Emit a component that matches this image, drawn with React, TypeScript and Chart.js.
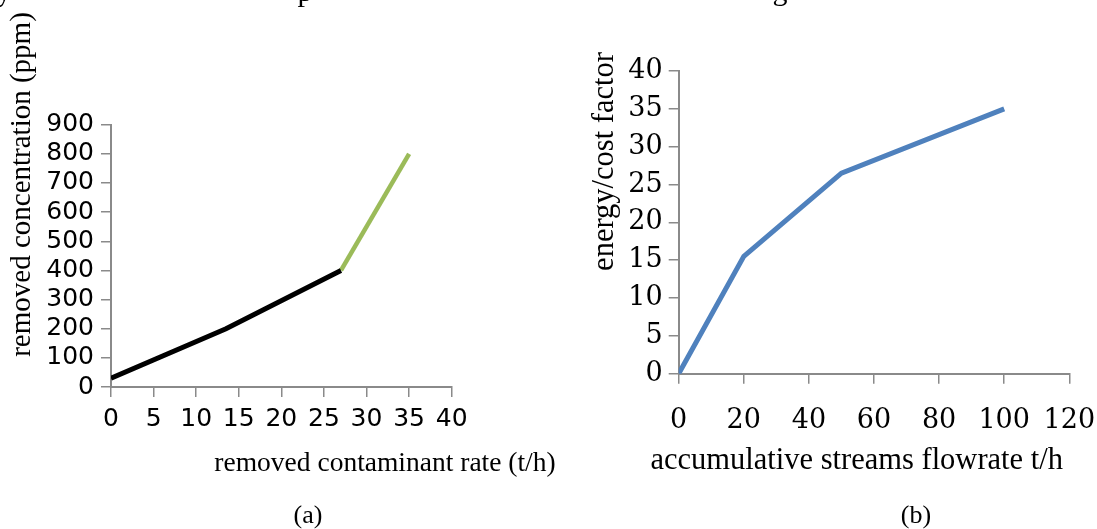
import React, { useEffect, useRef } from "react";
import { Chart, registerables } from "chart.js";

Chart.register(...registerables);

// ---------- data ----------
// (a) removed concentration vs removed contaminant rate
const rateBlack = [0, 13.5, 27];
const concBlack = [30, 200, 400];
const rateGreen = [27, 35];
const concGreen = [400, 800];
const aXTicks = [0, 5, 10, 15, 20, 25, 30, 35, 40];
const aYTicks = [0, 100, 200, 300, 400, 500, 600, 700, 800, 900];

// (b) energy/cost factor vs accumulative streams flowrate
const flowB = [0, 20, 50, 100];
const factorB = [0, 15.5, 26.5, 35];
const bXTicks = [0, 20, 40, 60, 80, 100, 120];
const bYTicks = [0, 5, 10, 15, 20, 25, 30, 35, 40];

const aXTitle = "removed contaminant rate (t/h)";
const aYTitle = "removed concentration (ppm)";
const bXTitle = "accumulative streams flowrate t/h";
const bYTitle = "energy/cost factor";
const aCaption = "(a)";
const bCaption = "(b)";

// ---------- styles ----------
const AXIS = "#8a8a8a";
const SERIF = "'Liberation Serif', serif";

const freeText = {
  id: "freeText",
  afterDraw(chart: any, _args: any, opts: any) {
    const ctx = chart.ctx;
    for (const t of opts.items || []) {
      ctx.save();
      ctx.translate(t.x, t.y);
      ctx.rotate(t.rot || 0);
      ctx.font = t.font;
      ctx.fillStyle = "#000";
      ctx.textAlign = "center";
      ctx.textBaseline = "alphabetic";
      ctx.fillText(t.text, 0, 0);
      ctx.restore();
    }
  },
};

function axisCommon(ticks: number[], font: any, pad: number, fitKey: "width" | "height", fitVal: number) {
  return {
    type: "linear",
    min: ticks[0],
    max: ticks[ticks.length - 1],
    afterBuildTicks: (s: any) => {
      s.ticks = ticks.map((v) => ({ value: v }));
    },
    afterFit: (s: any) => {
      s[fitKey] = fitVal;
      s.paddingLeft = 0;
      s.paddingRight = 0;
      s.paddingTop = 0;
      s.paddingBottom = 0;
    },
    grid: {
      display: true,
      drawOnChartArea: false,
      drawTicks: true,
      tickLength: 10,
      color: AXIS,
      lineWidth: 1.5,
    },
    border: { display: true, color: AXIS, width: 2 },
    ticks: {
      color: "#000",
      font,
      padding: pad,
      maxRotation: 0,
      autoSkip: false,
      callback: (v: any) => String(v),
    },
  };
}

function pts(xs: number[], ys: number[]) {
  return xs.map((x, i) => ({ x, y: ys[i] }));
}

export default function App() {
  const refA = useRef<HTMLCanvasElement>(null);
  const refB = useRef<HTMLCanvasElement>(null);

  useEffect(() => {
    const sansTick = { family: "'DejaVu Sans', sans-serif", size: 25 };
    const serifTick = { family: "'DejaVu Serif', serif", size: 27 };

    const chartA = new Chart(refA.current as HTMLCanvasElement, {
      type: "line",
      data: {
        datasets: [
          {
            data: pts(rateBlack, concBlack),
            borderColor: "#000000",
            borderWidth: 5,
            pointRadius: 0,
            tension: 0,
          },
          {
            data: pts(rateGreen, concGreen),
            borderColor: "#9BBB59",
            borderWidth: 4.5,
            pointRadius: 0,
            tension: 0,
          },
        ],
      },
      options: {
        responsive: false,
        animation: false,
        devicePixelRatio: 1,
        layout: { padding: { left: 0, top: 124.7, right: 108.3, bottom: 0 } },
        plugins: {
          legend: { display: false },
          tooltip: { enabled: false },
          freeText: {
            items: [
              { text: "y", x: 4, y: 1, font: `30px ${SERIF}` },
              { text: "p", x: 305, y: 1, font: `30px ${SERIF}` },
              { text: aYTitle, x: 29.5, y: 184.5, rot: -Math.PI / 2, font: `29px ${SERIF}` },
              { text: aXTitle, x: 385, y: 471, font: `27.5px ${SERIF}` },
              { text: aCaption, x: 308, y: 523, font: `26px ${SERIF}` },
            ],
          },
        } as any,
        scales: {
          x: axisCommon(aXTicks, sansTick, 7, "height", 142) as any,
          y: axisCommon(aYTicks, sansTick, 7, "width", 111) as any,
        },
      },
      plugins: [freeText],
    } as any);

    const chartB = new Chart(refB.current as HTMLCanvasElement, {
      type: "line",
      data: {
        datasets: [
          {
            data: pts(flowB, factorB),
            borderColor: "#4F81BD",
            borderWidth: 5,
            pointRadius: 0,
            tension: 0,
          },
        ],
      },
      options: {
        responsive: false,
        animation: false,
        devicePixelRatio: 1,
        layout: { padding: { left: 0, top: 71, right: 27.7, bottom: 0 } },
        plugins: {
          legend: { display: false },
          tooltip: { enabled: false },
          freeText: {
            items: [
              { text: "g", x: 220, y: 0, font: `30px ${SERIF}` },
              { text: bYTitle, x: 53, y: 161.5, rot: -Math.PI / 2, font: `30.5px ${SERIF}` },
              { text: bXTitle, x: 296.7, y: 469.3, font: `30.5px ${SERIF}` },
              { text: bCaption, x: 356, y: 523, font: `26px ${SERIF}` },
            ],
          },
        } as any,
        scales: {
          x: axisCommon(bXTicks, serifTick, 21, "height", 155.3) as any,
          y: axisCommon(bYTicks, serifTick, 6, "width", 118.7) as any,
        },
      },
      plugins: [freeText],
    } as any);

    return () => {
      chartA.destroy();
      chartB.destroy();
    };
  }, []);

  return (
    <div
      style={{
        position: "absolute",
        left: 0,
        top: 0,
        width: 1097,
        height: 529,
        background: "#fff",
        overflow: "hidden",
      }}
    >
      <canvas
        ref={refA}
        width={560}
        height={529}
        style={{ position: "absolute", left: 0, top: 0, width: 560, height: 529 }}
      />
      <canvas
        ref={refB}
        width={537}
        height={529}
        style={{ position: "absolute", left: 560, top: 0, width: 537, height: 529 }}
      />
    </div>
  );
}
